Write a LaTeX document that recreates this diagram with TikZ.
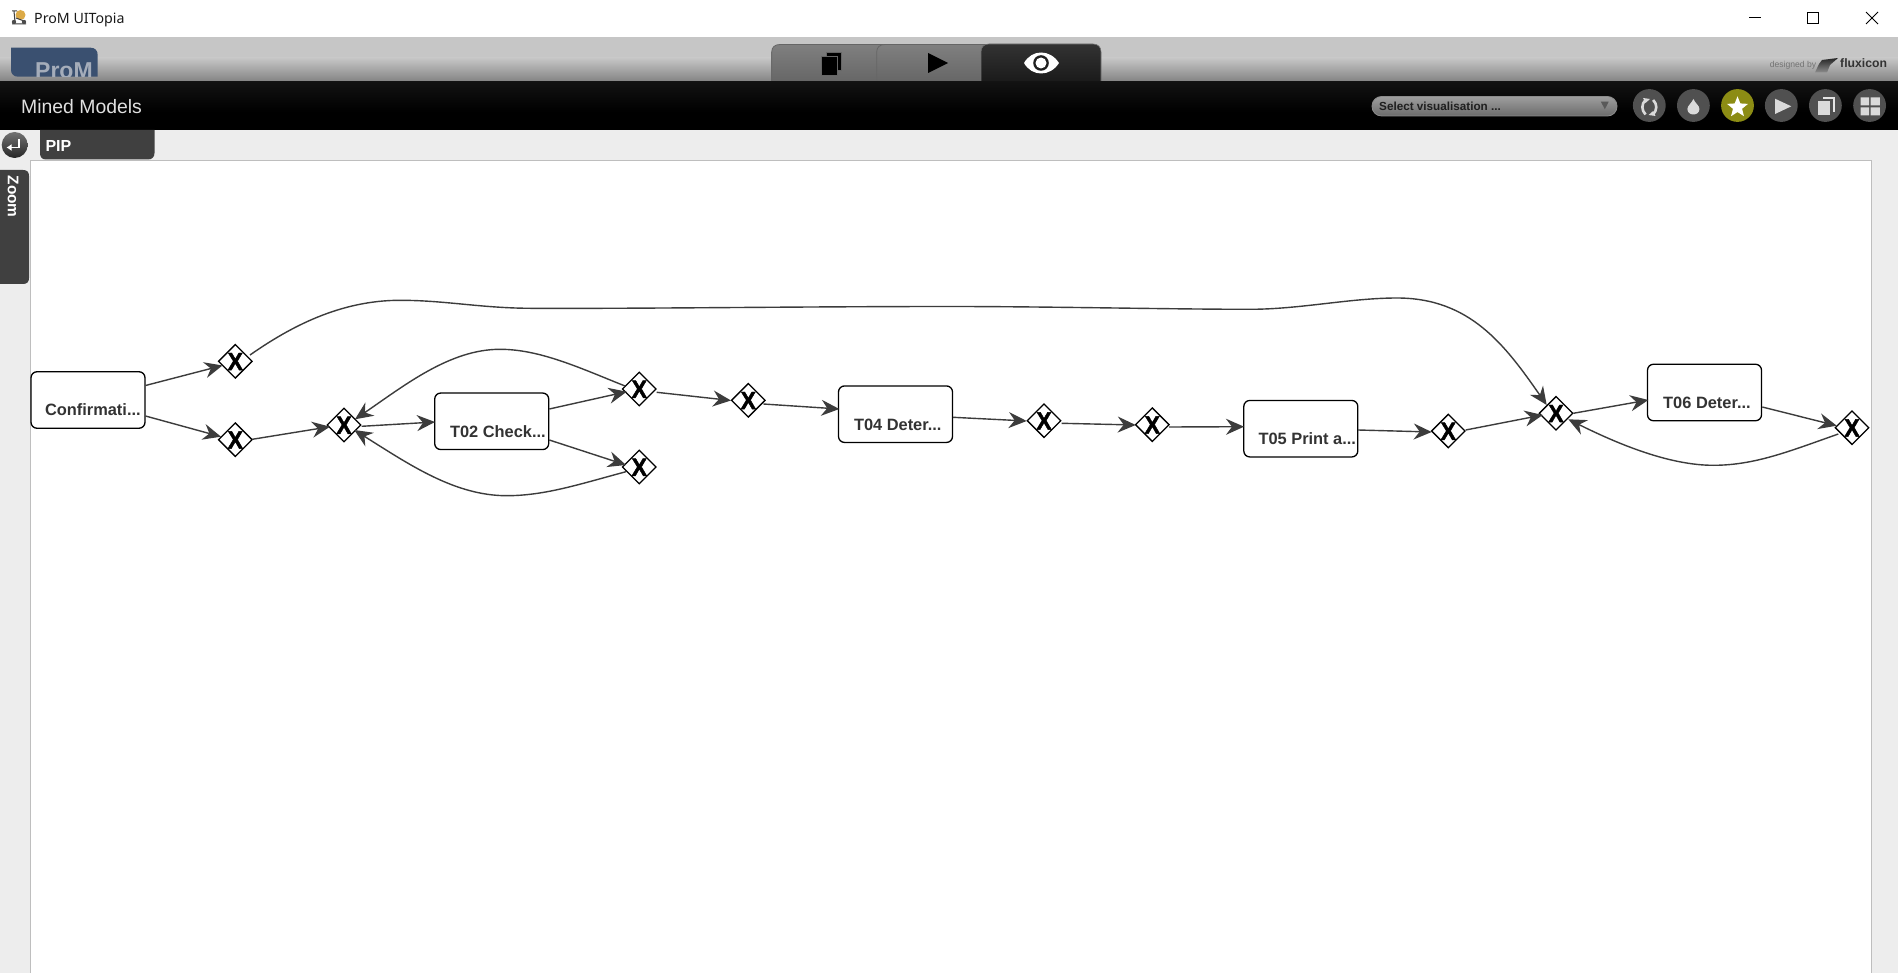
\documentclass[tikz,border=0pt]{standalone}
\usepackage{fontspec}
\setmainfont{Liberation Sans}
\newfontfamily\titlefont{Noto Sans}
\newfontfamily\gatefont{Liberation Sans}[BoldFeatures={FakeBold=1.8}]
\usetikzlibrary{arrows.meta,shapes.geometric}
\definecolor{edgegray}{HTML}{3C3C3C}
\definecolor{panelgray}{HTML}{EDEDED}
\definecolor{frameline}{HTML}{BEBEBE}
\definecolor{iconbg}{HTML}{505050}
\definecolor{iconfg}{HTML}{DADADA}
\definecolor{bandtop}{HTML}{C6C6C6}
\definecolor{bandbot}{HTML}{828282}
\definecolor{bartop}{HTML}{121212}
\definecolor{goldicon}{HTML}{DCAA46}
\definecolor{prombg}{HTML}{3A5070}
\definecolor{promtx}{HTML}{A5ADBA}
\definecolor{olive}{HTML}{8C8C14}
\definecolor{tabgray}{HTML}{404040}
\newcommand{\tasklabel}[2]{\makebox[114pt][l]{\hspace{#1pt}\raisebox{-15.9pt}[0pt][0pt]{#2}}}
\newcommand{\gatemark}{\raisebox{-8.9pt}[0pt][0pt]{\makebox[0pt]{\scalebox{0.92}[1]{X}}}}
\tikzset{
  taskbox/.style={draw=black,line width=1.3pt,fill=white,rounded corners=6pt,minimum width=114pt,minimum height=56.5pt,inner sep=0pt,text=black!80,font=\fontsize{16.4}{18}\selectfont\bfseries},
  gate/.style={draw=black,line width=1.3pt,fill=white,diamond,aspect=1,inner sep=0pt,minimum width=34pt,minimum height=34pt,font=\gatefont\fontsize{25}{26}\selectfont\bfseries},
  flow/.style={draw=edgegray,line width=1.4pt,-{Stealth[length=18pt,width=16pt,inset=6pt]}},
  roundicon/.style={circle,fill=iconbg,minimum size=32.8pt,inner sep=0pt},
  iconshape/.style={fill=iconfg,draw=none},
  lab/.style={inner sep=0pt,anchor=base west}
}
\begin{document}
\begin{tikzpicture}[x=1pt,y=-1pt]
\useasboundingbox (0,0) rectangle (1898,973);
% window
\fill[white] (0,0) rectangle (1898,37);
\fill[panelgray] (0,130) rectangle (1898,973);
\fill[white] (30.5,160.5) rectangle (1871,973);
\draw[frameline,line width=1pt] (30.5,973) -- (30.5,160.5) -- (1871,160.5) -- (1871,973);
\fill[bandtop] (0,37) rectangle (1898,58);
\shade[top color=bandtop,bottom color=bandbot] (0,58) rectangle (1898,82);
% tabs
\shade[top color=black!50,bottom color=black!60,draw=black!60,line width=0.8pt] (771.7,82) -- (771.7,52) .. controls (771.7,47) and (775,44.5) .. (780,44.5) -- (885,44.5) -- (885,82) -- cycle;
\shade[top color=black!50,bottom color=black!60,draw=black!60,line width=0.8pt] (876.7,82) -- (876.7,52) .. controls (876.7,47) and (880,44.5) .. (885,44.5) -- (990,44.5) -- (990,82) -- cycle;
\shade[top color=black!80,bottom color=black!90,draw=black!55,line width=0.6pt] (981,82) -- (981,52) .. controls (981,47) and (984,44) .. (989,44) -- (1093,44) .. controls (1098,44) and (1101,47) .. (1101,52) -- (1101,82) -- cycle;
\fill[black,draw=black!60,line width=0.5pt] (826,52) rectangle (841,70);
\fill[black,draw=black!60,line width=0.5pt] (821,56) rectangle (837,75);
\fill[black] (928,53) -- (948,63) -- (928,73) -- cycle;
\fill[white] (1024,63) .. controls (1032,49) and (1050,49) .. (1059,63) .. controls (1050,77) and (1032,77) .. (1024,63) -- cycle;
\fill[black!88] (1041,63) circle (7.8);
\fill[white] (1041,63) circle (5.5);
\shade[top color=bartop,bottom color=black] (0,82) rectangle (1898,112);
\fill[black] (0,112) rectangle (1898,130);
% title bar
\fill[goldicon] (20.5,15) circle (5);
\draw[black!75,line width=1pt] (12,11) -- (17,11) (14,11) -- (15,22) (12,24) -- (26,24) (16,18) -- (24,21);
\fill[black!70] (14,22) circle (2.2) (24,22) circle (2.2);
\node[lab,font=\titlefont\fontsize{14.2}{16}\selectfont,text=black!90] (wintitle) at (34,24) {ProM UITopia};
\draw[black,line width=1pt] (1749.3,17.5) -- (1761,17.5);
\draw[black,line width=1pt] (1807.5,12.5) rectangle (1818.5,24);
\draw[black,line width=1pt] (1866,12) -- (1878,24) (1878,12) -- (1866,24);
% logo
\begin{scope}
\clip (0,37) rectangle (1898,76.7);
\fill[prombg] (11,47.7) -- (90.5,47.7) .. controls (95,47.7) and (97.7,50.5) .. (97.7,55) -- (97.7,76.7) -- (18,76.7) .. controls (14,76.7) and (11,74) .. (11,70) -- cycle;
\node[lab,font=\fontsize{23}{25}\selectfont\bfseries,text=promtx] (logotext) at (35,78.5) {ProM};
\end{scope}
% black bar
\node[lab,font=\fontsize{19.4}{21}\selectfont,text=black!12] (heading) at (21,114) {Mined Models};
\shade[top color=black!38,bottom color=black!58,draw=black!45,line width=0.8pt,rounded corners=9.5pt] (1372,96.5) rectangle (1617,116);
\node[lab,font=\fontsize{11.7}{14}\selectfont\bfseries,text=black!88] (selector) at (1379,111) {Select visualisation ...};
\fill[black!65] (1600.9,101.7) -- (1608.7,101.7) -- (1604.8,109.3) -- cycle;
\node[roundicon] (ic1) at (1649.3,105.5) {};
\node[roundicon] (ic2) at (1693.4,105.5) {};
\node[roundicon,fill=olive] (ic3) at (1737.5,105.5) {};
\node[roundicon] (ic4) at (1781.3,105.5) {};
\node[roundicon] (ic5) at (1825.4,105.5) {};
\node[roundicon] (ic6) at (1869.6,105.5) {};
\draw[iconfg,line width=2.6pt] (1645.5,100) .. controls (1641.3,104) and (1641.3,110) .. (1645.5,114.5);
\draw[iconfg,line width=2.6pt] (1653.1,100) .. controls (1657.3,104) and (1657.3,110) .. (1653.1,114.5);
\fill[iconfg] (1643,98) -- (1650,99) -- (1645.5,103) -- cycle (1655.6,116) -- (1648.6,115) -- (1653.1,111) -- cycle;
\fill[iconshape] (1693.4,99) .. controls (1691.5,103.5) and (1687.4,105.5) .. (1687.4,109) .. controls (1687.4,112.5) and (1690.2,114.5) .. (1693.4,114.5) .. controls (1696.6,114.5) and (1699.4,112.5) .. (1699.4,109) .. controls (1699.4,105.5) and (1695.3,103.5) .. (1693.4,99) -- cycle;
\node[star,star points=5,star point ratio=2.3,fill=white,minimum size=22pt,inner sep=0pt] (staricon) at (1737.5,107.3) {};
\fill[iconshape] (1775,98.7) -- (1791.3,106.3) -- (1775,114) -- cycle;
\fill[iconfg!70] (1822.6,97.3) rectangle (1834.7,111.7);
\fill[iconbg] (1820.8,99.4) rectangle (1833,113);
\fill[iconshape] (1818.3,100.7) rectangle (1830.4,114.7);
\fill[iconshape] (1860.7,97.3) rectangle (1869.2,105.3) (1870.6,97.3) rectangle (1879.9,105.3) (1860.7,107.3) rectangle (1869.2,115.3) (1870.6,107.3) rectangle (1879.9,115.3);
% designed by
\node[lab,font=\fontsize{8.6}{10}\selectfont,text=black!55] (designed) at (1769.6,67.3) {designed by};
\shade[top color=black!85,bottom color=black!45] (1822,60) -- (1838,58) -- (1830,65) -- (1827,72.5) -- (1815,72.5) -- (1819,64) -- cycle;
\node[lab,font=\fontsize{12.2}{13}\selectfont\bfseries,text=black!80] (fluxicon) at (1840,67.7) {fluxicon};
% left controls
\fill[tabgray] (40,130) -- (154.5,130) -- (154.5,153) .. controls (154.5,157) and (152,159.5) .. (148,159.5) -- (46,159.5) .. controls (42,159.5) and (40,157) .. (40,153) -- cycle;
\node[lab,font=\fontsize{16}{18}\selectfont\bfseries,text=white] (piptab) at (45.3,152) {PIP};
\shade[top color=black!55,bottom color=black!85] (14.7,145) circle (13);
\draw[white,line width=1.4pt,-{Latex[length=5pt,width=7pt]}] (19,139.5) -- (19,147.5) -- (6.5,147.5);
\fill[tabgray] (0,170) -- (23,170) .. controls (27,170) and (29,172) .. (29,176) -- (29,278) .. controls (29,282) and (27,284) .. (23,284) -- (0,284) -- cycle;
\node[inner sep=0pt,rotate=-90,anchor=base west,font=\fontsize{15.4}{17}\selectfont\bfseries,text=white] (zoomtab) at (8,175.5) {Zoom};
% tasks
\node[taskbox] (c1) at (88,400) {\tasklabel{14}{Confirmati...}};
\node[taskbox] (t2) at (491.7,421.3) {\tasklabel{15.3}{T02 Check...}};
\node[taskbox] (t4) at (895.5,414.2) {\tasklabel{15.5}{T04 Deter...}};
\node[taskbox] (t5) at (1300.8,428.7) {\tasklabel{14.7}{T05 Print a...}};
\node[taskbox] (t6) at (1704.5,392.5) {\tasklabel{15.7}{T06 Deter...}};
% gateways
\node[gate] (d1) at (235.3,361.3) {\gatemark};
\node[gate] (d2) at (235.3,439.7) {\gatemark};
\node[gate] (d3) at (344,425) {\gatemark};
\node[gate] (d4) at (639.3,389) {\gatemark};
\node[gate] (d5) at (639.3,467) {\gatemark};
\node[gate] (d6) at (748.3,400.3) {\gatemark};
\node[gate] (d7) at (1044,420.7) {\gatemark};
\node[gate] (d8) at (1152.3,424.7) {\gatemark};
\node[gate] (d9) at (1448.3,431) {\gatemark};
\node[gate] (d10) at (1556,413.3) {\gatemark};
\node[gate] (d11) at (1852,427.7) {\gatemark};
% connectors
\draw[flow] ([shift={(57.5,-14.5)}]c1.center) -- ([shift={(-12.8,4.2)}]d1.center);
\draw[flow] ([shift={(57.5,16)}]c1.center) -- ([shift={(-14.3,-3)}]d2.center);
\draw[flow] ([shift={(17,-0.4)}]d2.center) -- ([shift={(-14,1.7)}]d3.center);
\draw[flow] ([shift={(17.7,1.3)}]d3.center) -- ([shift={(-56.7,0.7)}]t2.center);
\draw[flow] ([shift={(57.6,-12.3)}]t2.center) -- ([shift={(-12.6,2.7)}]d4.center);
\draw[flow] ([shift={(57.6,18.7)}]t2.center) -- ([shift={(-13.3,-2)}]d5.center);
\draw[flow] ([shift={(-14.3,-3)}]d4.center) .. controls (580,368) and (540,349.3) .. (500,349.3) .. controls (450,349.3) and (405,385) .. ([shift={(11,-5.7)}]d3.center);
\draw[flow] ([shift={(-13.3,4.7)}]d5.center) .. controls (580,484) and (545,495.7) .. (506.7,495.7) .. controls (455,495.7) and (410,465) .. ([shift={(10.3,5)}]d3.center);
\draw[flow] ([shift={(17.4,3.3)}]d4.center) -- ([shift={(-17.3,0.2)}]d6.center);
\draw[flow] ([shift={(15,3.7)}]d6.center) -- ([shift={(-56.2,-5.2)}]t4.center);
\draw[flow] ([shift={(57.5,3.1)}]t4.center) -- ([shift={(-17.3,0.3)}]d7.center);
\draw[flow] ([shift={(17.7,2.6)}]d7.center) -- ([shift={(-16.6,0.3)}]d8.center);
\draw[flow] ([shift={(16.7,2.3)}]d8.center) -- ([shift={(-56.8,-2)}]t5.center);
\draw[flow] ([shift={(57.2,1.3)}]t5.center) -- ([shift={(-16.6,1)}]d9.center);
\draw[flow] ([shift={(17.4,-1)}]d9.center) -- ([shift={(-13.3,1.7)}]d10.center);
\draw[flow] ([shift={(17.3,0)}]d10.center) -- ([shift={(-56.2,7.5)}]t6.center);
\draw[flow] ([shift={(57.8,14.5)}]t6.center) -- ([shift={(-15.3,-2)}]d11.center);
\draw[flow] ([shift={(-13.7,6.3)}]d11.center) .. controls (1790,451) and (1755,465.3) .. (1713.3,465.3) .. controls (1670,465.3) and (1620,445) .. ([shift={(12.3,6)}]d10.center);
\draw[flow] ([shift={(14.7,-6.3)}]d1.center) .. controls (290,327) and (340,300.3) .. (400,300.3) .. controls (445,300.3) and (480,308) .. (530,308.3) .. controls (640,308.8) and (800,306.5) .. (950,306.5) .. controls (1050,306.5) and (1170,309.3) .. (1250,309.3) .. controls (1300,309.3) and (1350,298) .. (1397,298) .. controls (1470,298) and (1505,345) .. ([shift={(-9.3,-8.3)}]d10.center);
\end{tikzpicture}
\end{document}
